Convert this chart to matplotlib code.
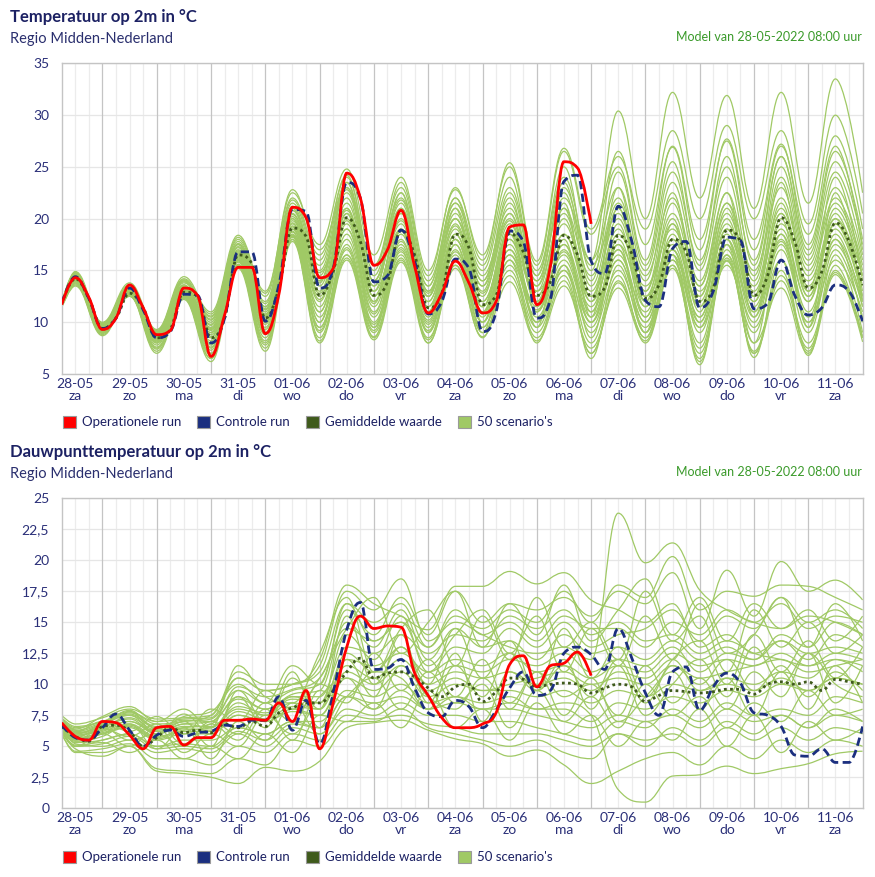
import matplotlib
matplotlib.use('Agg')
from matplotlib import pyplot as plt
from matplotlib.path import Path
from matplotlib.patches import PathPatch, Patch
import numpy as np

plt.rcParams['font.family'] = ['Lato', 'DejaVu Sans']

# hours since 28-05 00:00
T_LINE = np.arange(6, 361, 6)
T_OP = np.arange(6, 241, 6)
T_SCEN = np.concatenate(([6], np.arange(12, 361, 12)))

DAY_LABELS = ['28-05', '29-05', '30-05', '31-05', '01-06', '02-06', '03-06', '04-06',
              '05-06', '06-06', '07-06', '08-06', '09-06', '10-06', '11-06']
WEEKDAYS = ['za', 'zo', 'ma', 'di', 'wo', 'do', 'vr', 'za',
            'zo', 'ma', 'di', 'wo', 'do', 'vr', 'za']

# temperature (°C)
temp_op = [11.7, 14.3, 12.4, 9.3, 10.4, 13.6, 11.4, 8.8, 9.2, 13.3,
           12.6, 6.7, 10.7, 15.3, 15.3, 8.9, 12.7, 21.1, 20.1, 14.3,
           15.2, 24.4, 22.0, 15.5, 17.0, 20.8, 15.4, 10.9, 12.8, 15.9,
           13.8, 10.9, 12.0, 19.2, 19.4, 11.7, 15.4, 25.5, 24.9, 19.5]
temp_ctrl = [11.8, 14.4, 12.3, 9.4, 10.4, 13.3, 11.2, 8.5, 9.1, 12.7,
             12.6, 8.0, 10.4, 16.8, 16.8, 10.1, 13.6, 20.9, 20.7, 13.3,
             15.2, 23.5, 22.0, 13.9, 14.5, 18.9, 15.9, 10.8, 12.0, 16.1,
             15.2, 9.1, 11.0, 18.8, 17.8, 10.4, 12.2, 23.6, 24.2, 15.9,
             14.7, 21.2, 17.8, 12.1, 11.5, 17.1, 17.8, 11.4, 13.0, 18.2,
             17.9, 11.3, 11.8, 16.0, 12.6, 10.7, 11.4, 13.6, 13.0, 10.1]
temp_mean = [11.8, 14.2, 12.3, 9.4, 10.4, 12.8, 11.4, 8.5, 9.3, 12.9,
             12.5, 8.5, 10.4, 16.5, 15.7, 10.4, 13.3, 19.1, 18.3, 12.6,
             14.9, 20.1, 17.8, 12.6, 13.9, 18.9, 16.5, 11.4, 12.8, 18.5,
             17.2, 11.7, 12.6, 18.6, 16.8, 12.6, 13.9, 18.4, 16.5, 12.5,
             13.3, 18.4, 16.6, 12.3, 13.6, 18.0, 16.8, 12.0, 13.3, 18.9,
             17.8, 12.6, 14.5, 20.1, 17.8, 13.3, 14.9, 19.6, 17.8, 13.6]
temp_scen = [
    [11.9, 14.6, 9.6, 13.2, 8.9, 13.6, 9.5, 17.2, 11.2, 20.5, 14.0, 22.0, 13.5, 21.0, 12.5, 20.0,
     13.0, 21.5, 14.0, 22.0, 16.0, 30.4, 20.0, 32.2, 22.0, 31.9, 21.0, 32.2, 21.5, 33.5, 22.5],
    [11.8, 14.9, 10.0, 13.8, 9.3, 14.4, 11.0, 18.4, 13.0, 22.5, 17.5, 24.8, 16.5, 24.0, 15.0, 22.8,
     16.5, 25.0, 15.5, 26.5, 18.5, 25.0, 16.0, 27.0, 18.0, 27.5, 17.0, 27.0, 18.5, 28.0, 19.0],
    [11.6, 14.0, 9.2, 12.8, 8.0, 12.6, 8.0, 16.0, 9.5, 19.0, 11.0, 19.5, 11.0, 18.0, 10.0, 17.5,
     10.5, 17.0, 11.5, 16.5, 10.0, 16.5, 11.0, 18.0, 11.5, 19.0, 12.5, 20.5, 13.0, 19.0, 12.5],
    [11.7, 14.3, 9.5, 13.0, 8.5, 13.2, 9.0, 16.6, 10.5, 20.0, 13.0, 21.0, 12.5, 19.5, 11.0, 18.5,
     12.0, 18.0, 12.5, 18.5, 12.0, 17.5, 12.5, 16.5, 10.0, 18.0, 11.0, 19.5, 14.0, 20.0, 14.5],
    [11.4, 13.6, 8.8, 12.6, 7.2, 12.3, 6.5, 15.4, 7.5, 18.0, 8.5, 16.5, 9.0, 16.0, 8.5, 15.5,
     9.0, 14.5, 8.5, 14.0, 7.0, 14.0, 8.5, 15.5, 6.5, 16.5, 7.0, 14.0, 7.5, 15.0, 8.5],
    [11.9, 14.8, 9.8, 13.5, 9.0, 14.0, 10.0, 17.8, 11.8, 21.5, 15.5, 23.5, 14.5, 22.5, 13.0, 21.0,
     14.0, 22.0, 13.0, 21.0, 14.5, 22.0, 14.0, 23.5, 15.0, 24.0, 14.5, 25.0, 16.0, 24.5, 16.5],
    [11.8, 14.2, 9.3, 12.9, 8.4, 12.8, 8.5, 16.3, 10.0, 19.3, 12.0, 20.0, 12.0, 18.8, 11.5, 18.0,
     11.0, 19.0, 12.5, 19.5, 12.5, 19.0, 12.0, 18.0, 12.0, 19.5, 13.0, 21.0, 13.5, 19.5, 13.5],
    [11.5, 13.9, 9.0, 12.7, 7.8, 12.9, 7.5, 16.0, 9.0, 18.5, 10.0, 18.5, 10.5, 17.5, 9.5, 17.0,
     10.0, 16.5, 10.0, 15.5, 9.0, 15.0, 9.5, 16.0, 8.0, 17.0, 9.5, 16.0, 9.0, 17.0, 10.5],
    [12.0, 14.5, 9.7, 13.3, 8.7, 13.8, 10.5, 17.0, 11.5, 20.8, 14.5, 22.5, 14.0, 21.5, 12.5, 20.5,
     13.5, 20.0, 13.5, 23.0, 15.5, 20.5, 13.0, 20.5, 13.5, 21.5, 15.0, 23.0, 15.0, 22.0, 15.5],
    [11.6, 14.1, 9.4, 12.9, 8.6, 13.0, 8.8, 16.5, 10.3, 19.5, 12.5, 20.5, 13.0, 19.0, 11.5, 19.0,
     12.0, 18.5, 13.0, 17.5, 11.5, 18.5, 13.5, 19.0, 13.0, 18.5, 12.0, 19.0, 12.0, 21.0, 14.5],
    [11.7, 14.0, 9.1, 12.7, 8.2, 12.5, 7.0, 15.6, 8.5, 18.2, 9.5, 17.5, 9.5, 16.5, 9.0, 16.0,
     9.5, 15.5, 9.5, 15.0, 8.0, 14.5, 8.0, 15.2, 7.0, 15.9, 8.0, 13.3, 7.0, 14.6, 8.1],
    [11.8, 14.4, 9.6, 13.1, 8.8, 13.4, 9.2, 16.8, 10.8, 20.2, 13.5, 21.5, 13.5, 20.5, 12.0, 19.5,
     12.5, 20.5, 13.5, 20.5, 13.0, 20.0, 12.5, 19.5, 12.5, 20.5, 13.5, 22.0, 14.5, 21.5, 15.0],
    [11.5, 13.8, 9.0, 12.6, 7.5, 12.6, 6.8, 15.8, 8.0, 18.8, 9.0, 17.0, 8.5, 17.0, 8.0, 15.5,
     8.5, 16.0, 8.0, 15.5, 6.5, 15.5, 9.0, 16.5, 5.9, 17.5, 6.6, 16.0, 6.8, 16.5, 9.0],
    [11.9, 14.7, 9.9, 13.6, 9.2, 14.2, 10.8, 18.0, 12.5, 22.0, 16.5, 24.0, 15.5, 23.0, 14.0, 21.5,
     15.0, 23.0, 15.0, 24.0, 16.0, 23.0, 15.0, 24.5, 16.0, 25.0, 16.0, 26.0, 17.0, 26.5, 18.0],
    [11.6, 14.2, 9.3, 12.8, 8.3, 12.7, 8.2, 16.2, 9.8, 19.0, 11.5, 19.0, 11.5, 18.5, 10.5, 18.0,
     11.0, 17.5, 11.0, 17.0, 11.0, 17.0, 10.5, 17.5, 10.5, 18.0, 11.0, 18.0, 11.0, 18.0, 12.0],
    [11.7, 14.3, 9.5, 13.0, 8.6, 13.1, 9.0, 16.4, 10.2, 19.8, 12.8, 20.8, 12.5, 19.8, 12.0, 19.3,
     11.5, 19.5, 12.0, 18.5, 12.5, 21.0, 11.5, 20.0, 11.0, 21.0, 12.5, 20.5, 12.5, 20.5, 13.0],
    [11.8, 14.5, 9.7, 13.2, 8.9, 13.5, 9.8, 17.5, 11.0, 21.0, 14.0, 22.8, 14.0, 21.8, 13.5, 21.5,
     14.5, 21.0, 14.0, 22.5, 13.5, 21.5, 14.5, 22.0, 14.0, 22.5, 14.0, 24.0, 15.5, 23.0, 16.0],
    [11.4, 13.5, 8.7, 12.5, 7.0, 12.2, 6.2, 15.2, 7.2, 17.8, 8.0, 16.0, 8.3, 15.8, 8.0, 15.2,
     8.6, 13.9, 8.2, 13.5, 7.5, 13.3, 8.2, 15.5, 7.5, 16.0, 7.2, 14.5, 8.0, 14.8, 8.5],
    [11.6, 14.0, 9.2, 12.9, 8.1, 12.9, 7.8, 16.0, 9.3, 18.7, 10.5, 18.0, 10.0, 17.2, 9.8, 16.5,
     10.0, 16.0, 10.5, 16.0, 10.0, 16.0, 10.0, 17.0, 9.0, 16.5, 10.0, 17.5, 10.0, 16.0, 11.0],
    [11.9, 14.6, 9.8, 13.4, 9.1, 13.9, 10.2, 17.5, 11.5, 20.8, 15.0, 23.0, 15.5, 22.0, 13.5, 22.0,
     15.5, 24.0, 14.5, 25.0, 15.0, 26.5, 17.5, 26.9, 17.0, 27.7, 18.0, 27.2, 17.5, 27.0, 17.0],
    [11.7, 14.4, 9.4, 13.0, 8.7, 13.3, 9.3, 16.9, 10.6, 20.4, 13.8, 23.5, 13.0, 22.5, 11.0, 21.0,
     10.0, 19.0, 9.5, 21.5, 10.5, 23.0, 12.0, 21.5, 13.5, 22.5, 10.5, 20.0, 9.5, 22.5, 12.0],
    [11.6, 14.1, 9.3, 12.8, 8.2, 12.7, 7.3, 16.1, 8.8, 19.2, 10.0, 20.5, 9.5, 19.0, 9.0, 17.5,
     9.0, 18.5, 10.0, 18.0, 8.5, 17.5, 9.0, 19.5, 10.0, 18.0, 8.0, 18.5, 9.5, 18.0, 10.0],
    [11.8, 14.5, 9.6, 13.2, 8.8, 13.6, 9.7, 17.3, 11.3, 21.2, 14.8, 21.0, 12.0, 20.0, 12.5, 22.0,
     14.0, 20.5, 12.0, 20.0, 12.0, 21.0, 13.0, 22.5, 12.5, 21.5, 12.5, 23.5, 13.0, 24.0, 14.0],
    [11.5, 13.7, 8.9, 12.6, 7.6, 12.4, 7.0, 15.5, 8.2, 18.3, 9.5, 16.5, 9.8, 16.8, 9.2, 16.8,
     10.8, 17.0, 10.0, 15.0, 9.5, 16.0, 10.0, 17.0, 9.5, 15.5, 9.0, 17.0, 10.0, 17.5, 11.5],
    [11.8, 14.6, 9.8, 13.4, 9.0, 14.0, 10.3, 17.6, 12.0, 21.8, 16.0, 24.2, 15.0, 23.5, 14.5, 23.0,
     16.0, 25.4, 15.9, 26.8, 19.0, 26.0, 19.0, 28.5, 20.0, 29.0, 20.0, 28.5, 19.5, 30.0, 20.5],
    [11.6, 14.0, 9.2, 12.7, 8.0, 12.8, 7.6, 15.9, 9.0, 18.4, 9.2, 17.2, 9.2, 17.8, 10.2, 18.0,
     11.5, 18.0, 11.0, 17.5, 10.0, 18.0, 11.5, 17.0, 10.5, 19.0, 11.5, 18.5, 12.0, 19.5, 12.5],
    [11.7, 14.3, 9.5, 13.1, 8.7, 13.4, 9.4, 16.7, 10.7, 20.0, 12.2, 19.8, 11.8, 20.5, 12.8, 20.0,
     12.8, 19.8, 11.8, 21.0, 11.0, 19.5, 10.5, 18.5, 11.5, 20.0, 12.0, 21.5, 12.5, 20.0, 12.0],
    [11.5, 13.8, 9.0, 12.5, 7.4, 12.4, 6.5, 15.5, 7.8, 18.0, 8.2, 16.2, 8.6, 16.2, 8.3, 16.0,
     9.5, 15.0, 9.0, 14.5, 7.0, 13.8, 8.5, 16.5, 6.2, 16.2, 7.0, 15.0, 7.2, 15.5, 8.5],
    [11.9, 14.7, 9.9, 13.5, 9.1, 14.1, 10.6, 18.2, 12.8, 22.8, 17.0, 23.0, 14.0, 21.0, 13.0, 20.0,
     13.5, 22.5, 14.5, 23.5, 14.0, 24.5, 15.5, 25.5, 15.5, 26.0, 15.5, 26.0, 16.5, 25.5, 17.5],
    [11.7, 14.2, 9.4, 12.9, 8.5, 13.0, 8.6, 16.4, 10.0, 19.6, 11.0, 19.0, 10.8, 18.8, 10.8, 18.5,
     11.0, 16.5, 11.2, 16.8, 10.5, 17.0, 9.0, 16.0, 9.5, 17.5, 10.5, 17.8, 10.5, 18.5, 11.5],
]

# dew point (°C)
dew_op = [6.9, 5.8, 5.5, 7.0, 6.9, 5.9, 4.8, 6.5, 6.6, 5.1,
          5.7, 5.7, 7.1, 7.1, 7.2, 7.1, 8.5, 7.0, 9.5, 4.8,
          8.5, 13.0, 15.5, 14.5, 14.7, 14.6, 10.9, 9.1, 7.3, 6.5,
          6.5, 6.8, 7.7, 11.6, 12.3, 9.8, 11.5, 11.7, 12.6, 10.7]
dew_ctrl = [6.7, 5.7, 5.5, 6.5, 7.6, 6.3, 5.0, 5.9, 6.3, 5.8,
            6.1, 6.2, 6.7, 6.6, 7.1, 7.1, 9.0, 6.3, 8.7, 5.2,
            9.3, 14.4, 16.6, 11.2, 11.3, 12.0, 9.7, 7.7, 7.4, 8.7,
            8.2, 6.5, 7.9, 9.7, 11.0, 9.1, 9.5, 12.5, 13.0, 12.4,
            11.2, 14.5, 12.1, 9.3, 7.5, 11.0, 11.4, 7.9, 9.8, 10.9,
            10.1, 7.7, 7.5, 6.6, 4.3, 4.2, 4.8, 3.7, 3.7, 6.6]
dew_mean = [6.6, 5.8, 5.4, 6.6, 6.7, 6.2, 5.0, 5.7, 6.5, 6.1,
            6.3, 6.1, 6.8, 6.5, 7.0, 6.6, 7.7, 8.1, 8.5, 8.5,
            9.5, 11.0, 12.1, 10.5, 10.9, 11.0, 10.6, 9.7, 9.0, 9.8,
            10.0, 8.6, 9.4, 10.5, 10.4, 9.8, 10.0, 10.1, 10.0, 9.3,
            9.7, 10.0, 9.8, 8.6, 9.1, 9.5, 9.4, 9.3, 9.4, 9.6,
            9.6, 9.2, 10.0, 10.2, 10.0, 10.2, 9.5, 10.4, 10.2, 10.0]
dew_scen = [
    [7.2, 6.5, 7.0, 7.8, 6.8, 7.0, 7.5, 10.5, 9.5, 10.0, 11.5, 17.5, 16.0, 18.5, 13.5, 15.0,
     14.0, 13.0, 12.5, 13.0, 12.0, 23.8, 19.8, 21.4, 17.6, 16.0, 15.0, 14.5, 15.5, 15.0, 14.0],
    [6.2, 5.0, 5.5, 6.0, 5.0, 5.5, 5.5, 6.5, 6.0, 7.0, 6.5, 9.0, 8.0, 9.5, 8.0, 9.0,
     8.5, 9.0, 8.0, 8.5, 7.5, 1.5, 0.5, 2.6, 2.7, 3.4, 2.8, 3.2, 3.6, 4.4, 4.6],
    [6.8, 5.8, 6.5, 7.2, 6.0, 6.8, 6.5, 8.5, 7.5, 9.0, 8.5, 14.0, 12.0, 15.5, 11.0, 13.0,
     12.5, 14.5, 13.0, 15.0, 13.0, 14.0, 14.5, 16.0, 13.5, 15.5, 14.5, 17.0, 15.0, 16.0, 14.5],
    [6.5, 5.5, 6.0, 6.5, 5.5, 6.0, 6.0, 7.5, 7.0, 8.0, 7.5, 11.0, 10.0, 11.5, 9.5, 10.5,
     9.5, 10.0, 10.5, 11.0, 10.0, 10.5, 10.0, 11.5, 10.5, 11.0, 11.5, 12.0, 11.0, 11.5, 12.0],
    [6.0, 4.5, 4.5, 5.0, 3.2, 3.0, 2.8, 4.0, 3.5, 5.5, 5.0, 7.0, 7.0, 8.0, 6.5, 6.0,
     5.5, 5.0, 5.5, 4.5, 4.0, 6.0, 5.0, 6.5, 5.5, 7.0, 6.0, 7.5, 6.5, 8.0, 7.0],
    [7.0, 6.2, 6.8, 7.5, 6.5, 7.0, 7.2, 9.5, 8.5, 9.5, 10.0, 16.0, 14.0, 17.0, 14.0, 17.5,
     15.0, 16.5, 16.0, 17.0, 15.5, 17.5, 16.5, 19.0, 14.5, 19.2, 15.5, 19.9, 17.5, 18.4, 16.8],
    [6.6, 5.6, 6.2, 6.8, 5.8, 6.3, 6.5, 8.0, 7.5, 8.5, 8.0, 12.5, 11.0, 13.0, 10.5, 11.5,
     11.0, 12.0, 11.5, 12.5, 11.0, 12.0, 11.5, 13.0, 11.0, 12.5, 12.0, 13.5, 12.5, 13.0, 12.5],
    [6.3, 5.2, 5.0, 5.5, 4.5, 4.8, 4.5, 6.0, 5.0, 6.5, 6.0, 8.0, 7.5, 8.5, 7.5, 7.5,
     7.0, 7.0, 6.5, 6.0, 5.5, 7.0, 6.5, 8.0, 7.0, 8.5, 7.5, 8.0, 7.5, 9.0, 8.5],
    [7.5, 6.8, 7.3, 8.0, 7.2, 7.3, 7.5, 11.0, 10.0, 10.0, 12.0, 18.0, 16.5, 15.5, 14.4, 17.9,
     17.9, 19.1, 18.1, 19.0, 16.8, 16.0, 15.0, 16.5, 13.0, 14.0, 12.5, 13.5, 12.0, 14.0, 13.0],
    [6.7, 5.9, 6.4, 7.0, 6.2, 6.5, 6.8, 9.0, 8.0, 9.0, 9.0, 13.0, 12.5, 14.0, 12.5, 14.0,
     13.5, 15.5, 14.5, 16.0, 14.0, 15.0, 13.5, 14.0, 12.5, 13.5, 12.5, 12.0, 11.5, 12.0, 11.0],
    [6.4, 5.3, 5.5, 6.0, 5.0, 5.2, 5.0, 6.5, 6.0, 7.0, 7.0, 9.5, 9.0, 10.0, 8.5, 9.0,
     8.0, 8.5, 8.0, 8.0, 7.0, 8.5, 8.0, 9.0, 8.5, 9.5, 9.0, 10.0, 9.5, 10.5, 10.0],
    [6.1, 4.8, 4.2, 5.0, 3.0, 2.8, 2.5, 2.0, 3.3, 3.0, 3.8, 6.5, 6.9, 7.1, 6.3, 5.6,
     5.2, 4.2, 4.7, 3.5, 2.0, 3.0, 4.0, 4.5, 3.5, 5.0, 4.0, 5.5, 4.5, 5.5, 5.0],
    [6.9, 6.0, 6.6, 7.3, 6.3, 6.8, 7.0, 8.8, 8.0, 9.2, 9.5, 15.0, 13.0, 16.0, 12.0, 14.5,
     13.0, 13.5, 12.0, 14.0, 12.5, 13.0, 12.0, 13.5, 12.0, 13.0, 12.0, 14.0, 13.0, 15.0, 14.0],
    [6.5, 5.6, 6.0, 6.6, 5.6, 6.2, 6.2, 7.8, 7.2, 8.2, 8.0, 11.5, 10.5, 12.0, 10.0, 11.0,
     10.5, 11.0, 10.0, 10.5, 9.5, 11.0, 10.5, 12.0, 9.5, 10.5, 10.0, 11.0, 10.5, 12.0, 11.5],
    [6.2, 5.0, 5.2, 5.8, 4.8, 5.0, 4.8, 6.2, 5.5, 6.8, 6.5, 9.0, 8.5, 9.0, 8.0, 8.5,
     8.0, 8.0, 7.5, 7.0, 6.5, 7.5, 7.0, 7.5, 6.5, 8.0, 7.0, 7.5, 6.5, 7.5, 7.0],
    [7.3, 6.6, 7.0, 7.7, 7.0, 7.2, 7.3, 10.5, 9.5, 10.0, 11.0, 16.5, 15.0, 16.5, 13.0, 15.5,
     14.5, 16.0, 15.0, 17.5, 15.0, 18.0, 17.0, 20.3, 16.0, 17.5, 17.1, 18.0, 17.9, 17.0, 16.0],
    [6.8, 5.9, 6.3, 7.0, 6.0, 6.6, 6.6, 8.2, 7.7, 8.8, 8.5, 12.0, 11.5, 12.5, 11.0, 12.0,
     11.5, 12.5, 11.0, 11.5, 10.5, 11.5, 11.0, 12.5, 11.5, 12.0, 11.5, 12.5, 11.5, 12.5, 12.0],
    [6.0, 4.6, 4.8, 5.2, 4.0, 4.0, 3.5, 5.0, 4.5, 6.0, 5.5, 7.5, 7.2, 7.5, 6.8, 6.5,
     6.0, 6.0, 6.0, 5.5, 5.0, 6.0, 5.5, 6.0, 5.0, 6.5, 5.5, 6.5, 5.5, 6.5, 6.0],
    [7.0, 6.3, 6.9, 7.6, 6.6, 7.1, 7.0, 9.8, 9.0, 9.6, 10.5, 14.5, 13.5, 15.0, 13.0, 16.0,
     14.0, 15.0, 13.5, 15.5, 14.5, 14.5, 13.0, 15.0, 14.0, 16.0, 15.0, 16.5, 14.5, 15.5, 15.0],
    [6.6, 5.7, 6.1, 6.7, 5.7, 6.4, 6.3, 7.5, 7.0, 7.8, 7.5, 10.5, 9.5, 11.0, 9.0, 10.0,
     9.5, 9.5, 9.0, 9.5, 8.5, 9.5, 9.0, 10.0, 9.5, 10.0, 9.5, 10.5, 9.5, 10.5, 10.0],
    [6.7, 6.0, 6.8, 7.5, 6.0, 7.0, 5.0, 9.5, 7.0, 11.0, 6.5, 12.0, 9.0, 14.0, 8.5, 12.5,
     7.0, 11.0, 9.5, 12.0, 8.0, 11.5, 7.5, 10.0, 12.0, 9.0, 13.0, 10.0, 12.5, 8.5, 11.5],
    [6.3, 5.0, 6.0, 5.0, 6.5, 4.5, 6.0, 5.0, 7.5, 6.0, 9.0, 10.5, 8.0, 11.5, 9.0, 8.0,
     10.5, 8.5, 11.0, 9.0, 10.0, 7.5, 11.5, 8.5, 10.5, 8.0, 11.0, 9.0, 12.5, 10.0, 9.0],
    [7.0, 6.4, 7.4, 8.2, 7.0, 8.0, 6.5, 11.5, 9.0, 8.5, 12.5, 17.0, 11.0, 14.5, 16.0, 11.5,
     15.5, 12.0, 17.0, 13.0, 15.0, 12.0, 17.5, 13.5, 15.5, 11.0, 16.0, 13.0, 15.0, 12.5, 14.0],
    [6.4, 5.4, 5.8, 6.8, 4.8, 6.5, 4.0, 7.0, 5.5, 8.5, 6.0, 9.0, 10.5, 8.0, 11.0, 8.5,
     10.0, 6.5, 9.5, 7.0, 9.0, 6.5, 10.0, 7.5, 9.0, 6.5, 8.5, 7.0, 9.5, 7.5, 8.0],
    [6.8, 6.2, 7.0, 6.2, 7.4, 6.0, 8.0, 7.0, 9.5, 8.0, 10.5, 14.5, 17.0, 12.5, 15.0, 17.5,
     13.0, 16.5, 14.0, 18.0, 13.5, 16.0, 18.5, 14.0, 17.0, 13.5, 16.5, 14.5, 16.0, 13.5, 15.5],
    [6.5, 5.7, 6.5, 5.5, 6.0, 5.0, 6.8, 5.5, 8.0, 5.5, 9.5, 8.5, 12.5, 9.5, 12.0, 9.0,
     12.0, 8.0, 11.0, 7.5, 10.5, 7.0, 9.0, 11.0, 8.0, 10.5, 7.5, 11.0, 8.0, 11.5, 8.5],
    [7.1, 6.3, 6.0, 7.8, 6.0, 7.6, 6.0, 9.0, 6.5, 10.5, 8.0, 15.5, 10.0, 13.0, 10.0, 14.5,
     10.5, 13.5, 9.5, 14.5, 10.5, 13.0, 9.0, 12.0, 13.5, 10.0, 14.0, 11.0, 13.5, 10.5, 13.0],
    [6.2, 5.1, 5.3, 4.5, 5.5, 4.0, 5.0, 4.0, 6.0, 4.5, 7.5, 7.0, 8.5, 6.5, 9.5, 6.5,
     8.0, 5.5, 8.5, 6.0, 7.5, 5.0, 7.0, 5.5, 8.0, 5.0, 7.5, 4.5, 7.0, 5.5, 6.5],
    [6.9, 6.1, 6.7, 7.9, 6.4, 7.4, 7.8, 10.0, 8.5, 11.5, 10.0, 16.5, 13.5, 15.0, 11.5, 14.0,
     16.0, 12.5, 15.5, 11.0, 14.5, 11.5, 15.5, 12.0, 16.5, 12.5, 14.0, 17.0, 13.0, 16.5, 13.5],
    [6.6, 5.5, 6.4, 5.8, 6.8, 5.2, 7.0, 6.0, 8.5, 7.0, 10.0, 9.0, 11.0, 10.5, 8.0, 11.5,
     9.0, 12.5, 9.5, 11.5, 9.0, 12.0, 8.5, 11.5, 10.0, 12.0, 9.5, 11.5, 9.0, 11.0, 9.5],
]

NAVY = '#1c2163'
TICK_COL = '#2a2f78'
C_OP = '#ff0000'
C_CTRL = '#1b2f7f'
C_MEAN = '#3f5a1c'
C_SCEN = '#a0c965'
GREEN_TXT = '#3a9a2a'


def spline_path(xs, ys):
    # smooth curve through the points, like a highcharts "spline" series
    xs = list(xs)
    ys = list(ys)
    n = len(xs)
    left = [(xs[i], ys[i]) for i in range(n)]
    right = [(xs[i], ys[i]) for i in range(n)]
    for i in range(1, n - 1):
        x, y = xs[i], ys[i]
        lx = (1.5 * x + xs[i - 1]) / 2.5
        ly = (1.5 * y + ys[i - 1]) / 2.5
        rx = (1.5 * x + xs[i + 1]) / 2.5
        ry = (1.5 * y + ys[i + 1]) / 2.5
        corr = (ry - ly) * (rx - x) / (rx - lx) + y - ry
        ly += corr
        ry += corr
        if ly > ys[i - 1] and ly > y:
            ly = max(ys[i - 1], y)
            ry = 2 * y - ly
        elif ly < ys[i - 1] and ly < y:
            ly = min(ys[i - 1], y)
            ry = 2 * y - ly
        if ry > ys[i + 1] and ry > y:
            ry = max(ys[i + 1], y)
            ly = 2 * y - ry
        elif ry < ys[i + 1] and ry < y:
            ry = min(ys[i + 1], y)
            ly = 2 * y - ry
        left[i] = (lx, ly)
        right[i] = (rx, ry)
    verts = [(xs[0], ys[0])]
    codes = [Path.MOVETO]
    for i in range(n - 1):
        verts += [right[i], left[i + 1], (xs[i + 1], ys[i + 1])]
        codes += [Path.CURVE4] * 3
    return Path(verts, codes)


def add_line(ax, xs, ys, color, lw, ls='-', z=2):
    assert len(xs) == len(ys)
    ax.add_patch(PathPatch(spline_path(xs, ys), fill=False, edgecolor=color,
                           lw=lw, linestyle=ls, zorder=z, capstyle='butt'))


def draw_chart(ax, scen, mean, ctrl, op, yticks, ylabels):
    for row in scen:
        add_line(ax, T_SCEN, row, C_SCEN, 0.9, z=2)
    add_line(ax, T_LINE, mean, C_MEAN, 2.0, (0, (1.0, 1.2)), z=3)
    add_line(ax, T_LINE, ctrl, C_CTRL, 2.0, (0, (3.0, 1.6)), z=4)
    add_line(ax, T_OP, op, C_OP, 2.0, z=5)

    ax.set_xlim(6, 360)
    ax.set_ylim(yticks[0], yticks[-1])
    for h in np.arange(12, 360, 6):
        if h % 24 == 0:
            ax.axvline(h, color='#c4c4c4', lw=0.9, zorder=1)
        else:
            ax.axvline(h, color='#ececec', lw=0.9, zorder=0)
    ax.set_yticks(yticks)
    ax.set_yticklabels(ylabels)
    ax.yaxis.grid(True, color='#e6e6e6', lw=0.9, zorder=0)
    ax.set_axisbelow(True)
    ax.set_xticks(np.arange(12, 360, 24))
    ax.set_xticklabels([d + '\n' + w for d, w in zip(DAY_LABELS, WEEKDAYS)],
                       linespacing=1.0)
    ax.tick_params(length=0, labelsize=10, colors=TICK_COL)
    ax.tick_params(axis='x', pad=3)
    ax.tick_params(axis='y', pad=9)
    for s in ax.spines.values():
        s.set_color('#c4c4c4')
        s.set_linewidth(1.0)


def add_header(fig, ytop, title):
    fig.text(10 / 875, 1 - ytop / 877, title, fontsize=12, fontweight='bold',
             color=NAVY, va='center', ha='left')
    fig.text(10 / 875, 1 - (ytop + 22) / 877, 'Regio Midden-Nederland', fontsize=10.5,
             color='#2a2f6e', va='center', ha='left')
    fig.text(862 / 875, 1 - (ytop + 20) / 877, 'Model van 28-05-2022 08:00 uur',
             fontsize=9, color=GREEN_TXT, va='center', ha='right')


def add_legend(fig, ycenter):
    handles = [Patch(facecolor=c, edgecolor='#9a9a9a', lw=0.8)
               for c in [C_OP, C_CTRL, C_MEAN, C_SCEN]]
    labels = ['Operationele run', 'Controle run', 'Gemiddelde waarde', "50 scenario's"]
    fig.legend(handles, labels, loc='center left',
               bbox_to_anchor=(51 / 875, 1 - ycenter / 877), ncol=4, frameon=False,
               fontsize=9.5, handlelength=1.0, handleheight=1.1, handletextpad=0.45,
               columnspacing=1.2, labelcolor=NAVY)


fig = plt.figure(figsize=(8.75, 8.77), dpi=100)

ax1 = fig.add_axes([61.7 / 875, 1 - 374 / 877, 800.9 / 875, 310.6 / 877])
draw_chart(ax1, temp_scen, temp_mean, temp_ctrl, temp_op,
           [5, 10, 15, 20, 25, 30, 35], ['5', '10', '15', '20', '25', '30', '35'])

ax2 = fig.add_axes([61.7 / 875, 1 - 808.3 / 877, 800.9 / 875, 310 / 877])
draw_chart(ax2, dew_scen, dew_mean, dew_ctrl, dew_op,
           [0, 2.5, 5, 7.5, 10, 12.5, 15, 17.5, 20, 22.5, 25],
           ['0', '2,5', '5', '7,5', '10', '12,5', '15', '17,5', '20', '22,5', '25'])

add_header(fig, 17, 'Temperatuur op 2m in °C')
add_header(fig, 452, 'Dauwpunttemperatuur op 2m in °C')
add_legend(fig, 422)
add_legend(fig, 857)

fig.savefig('out.png', dpi=100)
